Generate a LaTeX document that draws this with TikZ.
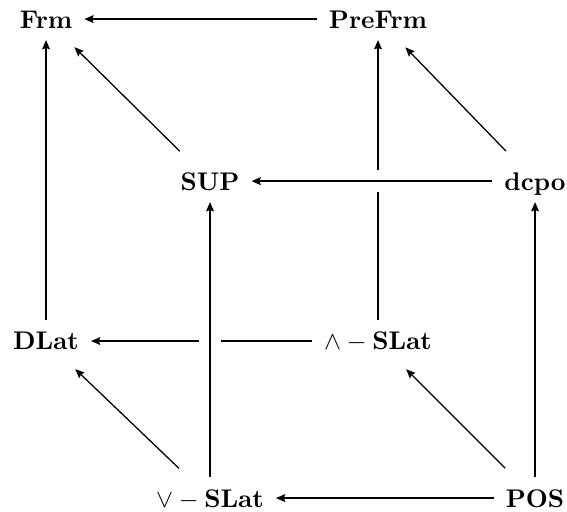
\documentclass[tikz,border=0pt]{standalone}
\usetikzlibrary{arrows.meta}
\tikzset{
  obj/.style={inner sep=4.5pt,text height=7pt,text depth=0pt},
  arr/.style={-{Stealth[length=3.6pt,width=3pt,inset=0.5pt]},line width=0.75pt},
  diag/.style={arr,line width=0.5pt,shorten >=4pt,shorten <=5pt},
  front/.style={preaction={draw=white,line width=8.5pt,arrows=-}},
}
\begin{document}
\begin{tikzpicture}[x=1cm,y=1cm]
\useasboundingbox (0,0) rectangle (7.81,7.04);

% Geometry
\def\xA{0.634}
\def\xB{2.893}
\def\xC{5.207}
\def\xD{7.370}
\def\yA{6.777}
\def\yB{4.545}
\def\yC{2.342}
\def\yD{0.179}

% Objects
\node[obj] (frm)    at (\xA,\yA) {$\mathbf{Frm}$};
\node[obj] (prefrm) at (\xC,\yA) {$\mathbf{PreFrm}$};
\node[obj] (sup)    at (\xB,\yB) {$\mathbf{SUP}$};
\node[obj] (dcpo)   at (\xD,\yB) {$\mathbf{dcpo}$};
\node[obj] (dlat)   at (\xA,\yC) {$\mathbf{DLat}$};
\node[obj] (mslat)  at (\xC,\yC) {$\wedge-\mathbf{SLat}$};
\node[obj] (jslat)  at (\xB,\yD) {$\vee-\mathbf{SLat}$};
\node[obj] (pos)    at (\xD,\yD) {$\mathbf{POS}$};

% Back face
\draw[arr] (prefrm) -- (frm);
\draw[arr] (dlat) -- (frm);
\draw[arr] (mslat) -- (prefrm);
\draw[arr] (mslat) -- (dlat);

% Front face (drawn over the back)
\draw[arr,front] (dcpo) -- (sup);
\draw[arr,front,line width=1.1pt] (jslat) -- (sup);
\draw[arr] (pos) -- (jslat);
\draw[arr] (pos) -- (dcpo);

% Diagonals
\draw[diag] (sup) -- (frm);
\draw[diag] (dcpo) -- (prefrm);
\draw[diag] (jslat) -- (dlat);
\draw[diag] (pos) -- (mslat);

\end{tikzpicture}
\end{document}
